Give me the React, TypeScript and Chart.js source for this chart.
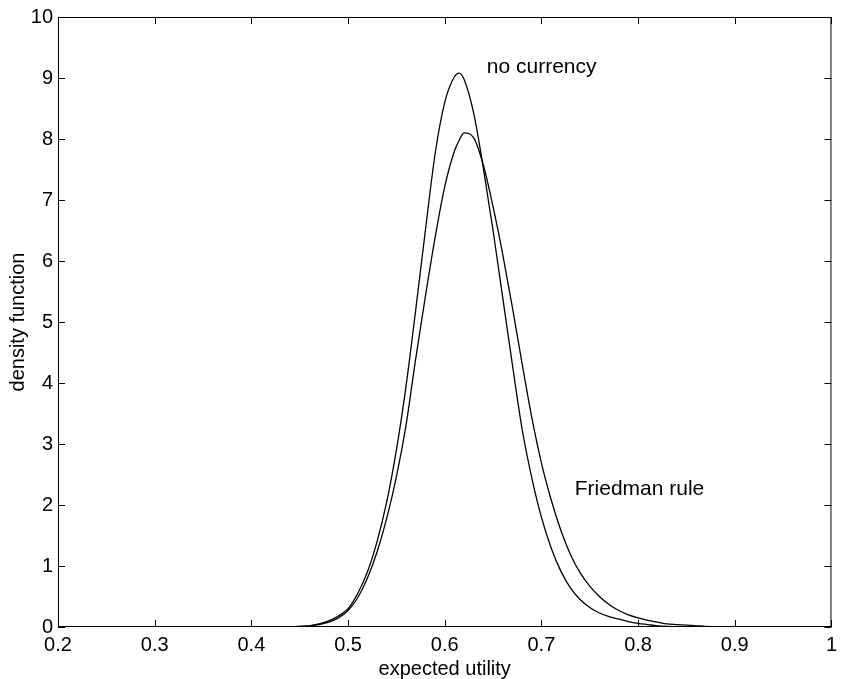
import React, { useEffect, useRef } from "react";
import { Chart, registerables } from "chart.js";

Chart.register(...registerables);

// Sample points along the expected-utility axis
const utility = [
  0.2, 0.3, 0.4, 0.42, 0.44, 0.45, 0.46, 0.47, 0.48, 0.49, 0.5, 0.51, 0.52, 0.53,
  0.54, 0.55, 0.56, 0.57, 0.58, 0.59, 0.6, 0.61, 0.615, 0.62, 0.63, 0.64, 0.65,
  0.66, 0.67, 0.68, 0.69, 0.7, 0.71, 0.72, 0.73, 0.74, 0.75, 0.76, 0.77, 0.78,
  0.79, 0.8, 0.81, 0.82, 0.83, 0.84, 0.85, 0.86, 0.87, 0.88, 0.89, 0.9, 0.95, 1.0,
];

// Density of expected utility without currency
const noCurrency = [
  0, 0, 0, 0.002, 0.005, 0.01, 0.02, 0.05, 0.1, 0.18, 0.3, 0.55, 0.9, 1.4,
  2.05, 2.9, 3.95, 5.2, 6.5, 7.75, 8.6, 9.02, 9.08, 8.98, 8.42, 7.52, 6.5,
  5.4, 4.3, 3.25, 2.45, 1.8, 1.3, 0.92, 0.64, 0.45, 0.32, 0.23, 0.17, 0.13,
  0.09, 0.06, 0.04, 0.02, 0.01, 0.005, 0, 0, 0, 0, 0, 0, 0, 0,
];

// Density of expected utility under the Friedman rule
const friedmanRule = [
  0, 0, 0, 0.002, 0.005, 0.01, 0.02, 0.04, 0.08, 0.15, 0.27, 0.48, 0.8, 1.23,
  1.78, 2.46, 3.31, 4.4, 5.42, 6.38, 7.22, 7.8, 7.98, 8.1, 8.02, 7.57, 6.89,
  6.11, 5.24, 4.32, 3.44, 2.69, 2.09, 1.59, 1.19, 0.89, 0.67, 0.5, 0.37, 0.27,
  0.2, 0.15, 0.11, 0.08, 0.05, 0.04, 0.03, 0.02, 0.01, 0.005, 0, 0, 0, 0,
];

// Curve labels and where they sit, in data units
const curveLabels = ["no currency", "Friedman rule"];
const curveLabelX = [0.6435, 0.7345];
const curveLabelY = [9.085, 2.157];

const FONT = "'Liberation Sans', Arial, Helvetica, sans-serif";

const frameAndTicks = {
  id: "frameAndTicks",
  afterDraw(chart: any) {
    const { ctx, chartArea } = chart;
    const { left, right, top, bottom } = chartArea;
    const xs = chart.scales.x;
    const ys = chart.scales.y;
    const len = 7;
    ctx.save();
    ctx.strokeStyle = "#000";
    ctx.lineWidth = 1;
    ctx.strokeRect(left + 0.5, top + 0.5, right - left - 1, bottom - top - 1);
    ctx.beginPath();
    xs.ticks.forEach((t: any) => {
      const px = Math.round(xs.getPixelForValue(t.value)) + 0.5;
      ctx.moveTo(px, bottom);
      ctx.lineTo(px, bottom - len);
      ctx.moveTo(px, top);
      ctx.lineTo(px, top + len);
    });
    ys.ticks.forEach((t: any) => {
      const py = Math.round(ys.getPixelForValue(t.value)) + 0.5;
      ctx.moveTo(left, py);
      ctx.lineTo(left + len, py);
      ctx.moveTo(right, py);
      ctx.lineTo(right - len, py);
    });
    ctx.stroke();

    ctx.fillStyle = "#000";
    ctx.font = `21px ${FONT}`;
    ctx.textAlign = "left";
    ctx.textBaseline = "alphabetic";
    curveLabels.forEach((txt, i) => {
      ctx.fillText(txt, xs.getPixelForValue(curveLabelX[i]), ys.getPixelForValue(curveLabelY[i]));
    });
    ctx.restore();
  },
};

export default function App() {
  const ref = useRef<HTMLCanvasElement | null>(null);

  useEffect(() => {
    if (!ref.current) return;
    const lineStyle = {
      borderColor: "#000",
      borderWidth: 1.3,
      pointRadius: 0,
      cubicInterpolationMode: "monotone" as const,
      fill: false,
    };
    const chart = new Chart(ref.current, {
      type: "line",
      data: {
        datasets: [
          {
            label: "no currency",
            data: utility.map((x, i) => ({ x, y: noCurrency[i] })),
            ...lineStyle,
          },
          {
            label: "Friedman rule",
            data: utility.map((x, i) => ({ x, y: friedmanRule[i] })),
            ...lineStyle,
          },
        ],
      },
      options: {
        responsive: false,
        animation: false,
        layout: { padding: { top: 15, right: 6, left: 0, bottom: 0 } },
        plugins: {
          legend: { display: false },
          tooltip: { enabled: false },
        },
        scales: {
          x: {
            type: "linear",
            min: 0.2,
            max: 1,
            grid: { display: false, drawTicks: false },
            border: { display: false },
            ticks: {
              stepSize: 0.1,
              padding: 6,
              color: "#000",
              font: { family: FONT, size: 20 },
              callback: (v: any) => String(Number(Number(v).toFixed(1))),
            },
            title: {
              display: true,
              text: "expected utility",
              color: "#000",
              font: { family: FONT, size: 20, lineHeight: 1 },
              padding: { top: 0, bottom: 0 },
            },
            afterFit: (s: any) => {
              s.height = 52;
            },
          },
          y: {
            min: 0,
            max: 10,
            grid: { display: false, drawTicks: false },
            border: { display: false },
            ticks: {
              stepSize: 1,
              padding: 5,
              color: "#000",
              font: { family: FONT, size: 20 },
            },
            title: {
              display: true,
              text: "density function",
              color: "#000",
              font: { family: FONT, size: 20, lineHeight: 1 },
              padding: { top: 8, bottom: 0 },
            },
            afterFit: (s: any) => {
              s.width = 58;
            },
          },
        },
      },
      plugins: [frameAndTicks],
    });
    return () => chart.destroy();
  }, []);

  return (
    <div style={{ position: "fixed", left: 0, top: 0, width: 843, height: 679, background: "#fff" }}>
      <canvas ref={ref} width={843} height={679} style={{ width: 843, height: 679, display: "block" }} />
    </div>
  );
}
